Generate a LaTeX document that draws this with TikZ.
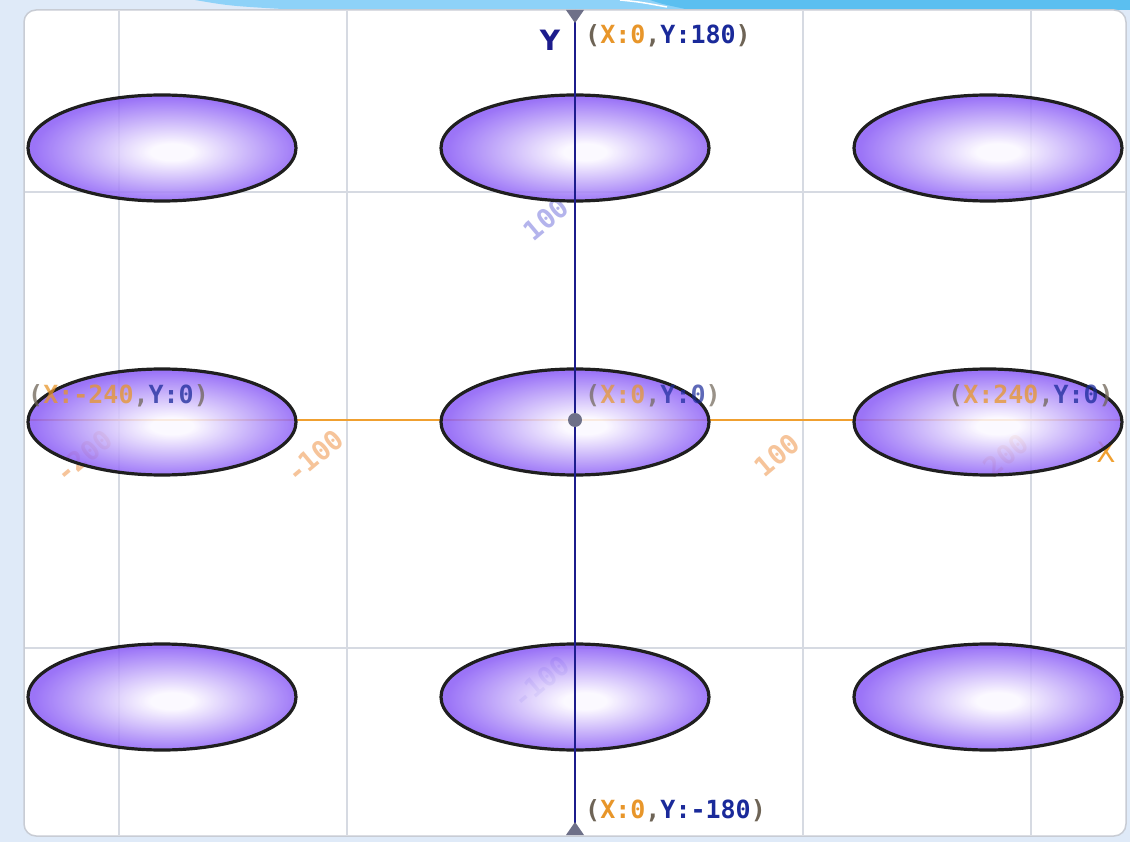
\documentclass[tikz,border=0pt]{standalone}
\usepackage{fontspec}
\usetikzlibrary{shapes.geometric}
\newfontfamily\cf{DejaVu Sans Mono}
\newfontfamily\axf{DejaVu Sans}
\definecolor{bgblue}{HTML}{DFEAF8}
\definecolor{bandlight}{HTML}{8ED2F8}
\definecolor{banddark}{HTML}{5BBFF0}
\definecolor{stageborder}{HTML}{C8CCD4}
\definecolor{gridc}{HTML}{D6DAE2}
\definecolor{xaxis}{HTML}{F0A030}
\definecolor{yaxis}{HTML}{1C1C8C}
\definecolor{ellin}{HTML}{FBF8FF}
\definecolor{ellout}{HTML}{8A5CF6}
\definecolor{paren}{HTML}{6E6456}
\definecolor{xc}{HTML}{E8962A}
\definecolor{yc}{HTML}{1A2A9A}
\definecolor{ytick}{HTML}{B4B4EC}
\definecolor{xtick}{HTML}{F6C49A}
\definecolor{markc}{HTML}{6E7088}
\pgfdeclareradialshading{ellshade}{\pgfpoint{2bp}{-2bp}}{color(0bp)=(ellin); color(4bp)=(ellin); color(25bp)=(ellout); color(50bp)=(ellout)}
\newcommand{\clab}[2]{\textcolor{paren}{(}\textcolor{xc}{X:#1}\textcolor{paren}{,}\textcolor{yc}{Y:#2}\textcolor{paren}{)}}
\begin{document}
\begin{tikzpicture}[x=1pt,y=-1pt,
  gridline/.style={draw=gridc,line width=1.2pt},
  blob/.style={ellipse,draw=black!88,line width=3.2pt,shading=ellshade,fill opacity=0.85,minimum width=268pt,minimum height=106pt,inner sep=0pt},
  coordlab/.style={anchor=west,inner sep=0pt,font={\cf\bfseries\fontsize{25}{25}\selectfont}},
  ticklab/.style={inner sep=0pt,rotate=40,font={\cf\bfseries\fontsize{27}{27}\selectfont}},
  arrowtri/.style={fill=markc,draw=none}]
\useasboundingbox (0,0) rectangle (1130,842);
% background
\fill[bgblue] (0,0) rectangle (1130,842);
\fill[bandlight] (195,0) .. controls (230,6) .. (300,10) -- (1130,10) -- (1130,0) -- cycle;
\fill[banddark] (650,0) .. controls (662,4) .. (690,10) -- (1130,10) -- (1130,0) -- cycle;
\draw[white,line width=1.5pt] (620,0) .. controls (640,2) .. (667,7);
% stage
\draw[fill=white,draw=stageborder,line width=1.5pt,rounded corners=12pt] (24,10) rectangle (1126,836);
% grid
\foreach \gx in {119,347,803,1031} \draw[gridline] (\gx,11) -- (\gx,835);
\foreach \gy in {192,648} \draw[gridline] (25,\gy) -- (1125,\gy);
% tick labels
\node[ticklab,text=ytick] (ty1) at (546,219) {100};
\node[ticklab,text=ytick] (ty2) at (541,682) {-100};
\node[ticklab,text=xtick] (tx1) at (84,456) {-200};
\node[ticklab,text=xtick] (tx2) at (315,456) {-100};
\node[ticklab,text=xtick] (tx3) at (777,455) {100};
\node[ticklab,text=xtick] (tx4) at (1006,455) {200};
\node[inner sep=0pt,text=xaxis,font={\axf\fontsize{28}{28}\selectfont}] (xl) at (1106,452) {X};
% x axis
\coordinate (xa) at (28,420);
\coordinate (xb) at (1122,420);
\draw[xaxis,line width=2pt] (xa) -- (xb);
% ellipses
\node[blob] (e11) at (162,148) {};
\node[blob] (e12) at (575,148) {};
\node[blob] (e13) at (988,148) {};
\node[blob] (e21) at (162,422) {};
\node[blob] (e22) at (575,422) {};
\node[blob] (e23) at (988,422) {};
\node[blob] (e31) at (162,697) {};
\node[blob] (e32) at (575,697) {};
\node[blob] (e33) at (988,697) {};
% y axis
\coordinate (ya) at (575,10);
\coordinate (yb) at (575,835);
\draw[yaxis,line width=2.2pt] (ya) -- (yb);
\fill[arrowtri] (566,10) -- (584,10) -- (575,23) -- cycle;
\fill[arrowtri] (566,835) -- (584,835) -- (575,822) -- cycle;
\fill[markc] (575,420) circle (7pt);
\node[inner sep=0pt,text=yaxis,font={\axf\bfseries\fontsize{28}{28}\selectfont}] (yl) at (550,40) {Y};
% coordinate labels
\node[coordlab] (ltop) at (585,36) {\clab{0}{180}};
\node[coordlab] (lbot) at (585,811) {\clab{0}{-180}};
\node[coordlab,opacity=0.75] (lleft) at (28,396) {\clab{-240}{0}};
\node[coordlab,opacity=0.7] (lmid) at (585,396) {\clab{0}{0}};
\node[coordlab,opacity=0.75] (lright) at (948,396) {\clab{240}{0}};
\end{tikzpicture}
\end{document}
